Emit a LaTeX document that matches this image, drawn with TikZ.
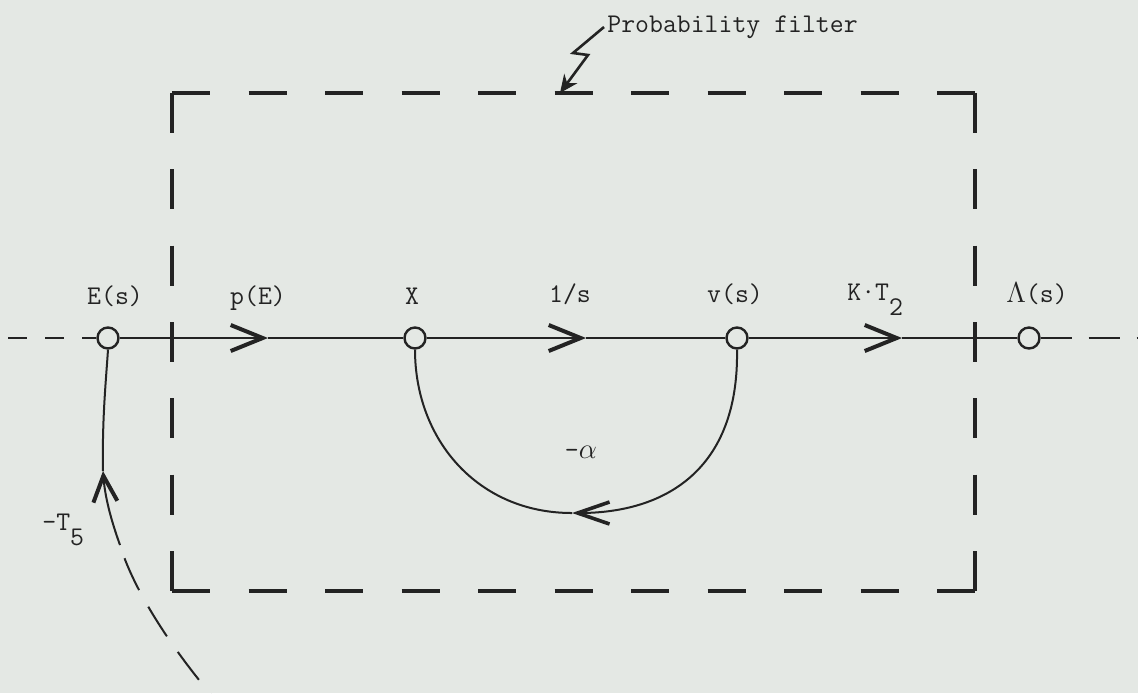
\documentclass[tikz,border=0pt]{standalone}
\usepackage{fontspec}
\usetikzlibrary{arrows.meta}
\definecolor{bg}{RGB}{228,232,228}
\definecolor{ink}{RGB}{35,35,35}
\begin{document}
\begin{tikzpicture}[x=0.5pt,y=-0.5pt,
  font=\ttfamily\fontsize{13.5}{15}\selectfont,
  box/.style={draw=ink, line width=1.8pt, line cap=square},
  hdash/.style={dash pattern=on 19pt off 19.25pt},
  vdash/.style={dash pattern=on 20pt off 18.17pt},
  wire/.style={draw=ink, line width=1.3pt},
  thincurve/.style={draw=ink, line width=1pt},
  nd/.style={circle, draw=ink, fill=bg, line width=1.2pt, minimum size=10.5pt, inner sep=0pt},
  lbl/.style={text=ink, inner sep=0pt, anchor=base},
  barb/.style={-{Straight Barb[length=16pt,width=13pt,line width=2pt]}},
  fbarb/.style={-{Straight Barb[length=16pt,width=11pt,line width=1.8pt]}},
  tbarb/.style={-{Straight Barb[length=13pt,width=12pt,line width=2pt]}}
]
\useasboundingbox (0,0) rectangle (1138,693);
\fill[bg] (0,0) rectangle (1138,693);

% probability filter box
\coordinate (b1) at (172,93);
\coordinate (b2) at (975,93);
\coordinate (b3) at (975,591);
\coordinate (b4) at (172,591);
\draw[box,hdash] (b1) -- (b2);
\draw[box,hdash] (b4) -- (b3);
\draw[box,vdash] (b1) -- (b4);
\draw[box,vdash] (b2) -- (b3);

% label and lightning pointer
\node[lbl, anchor=base west] (pf) at (607,32) {Probability filter};
\coordinate (z0) at (604,27);
\coordinate (z1) at (573,53);
\coordinate (z2) at (588,55);
\coordinate (z3) at (560,93);
\draw[draw=ink, line width=1.3pt, -{Stealth[length=9pt,width=8pt]}] (z0) -- (z1) -- (z2) -- (z3);

% nodes
\node[nd] (E) at (108,338) {};
\node[nd] (X) at (415,338) {};
\node[nd] (V) at (737,338) {};
\node[nd] (L) at (1029,338) {};

% labels
\node[lbl] (lE) at (115,304) {E(s)};
\node[lbl] (lp) at (258,304) {p(E)};
\node[lbl] (lX) at (412,304) {X};
\node[lbl] (l1) at (570,302) {1/s};
\node[lbl] (lv) at (735,302) {v(s)};
\node[lbl, anchor=base west] (lK) at (847,300) {K·T\raisebox{-7.5pt}{2}};
\node[lbl] (lL) at (1037,302) {$\Lambda$(s)};
\node[lbl, anchor=center] (la) at (581,452) {-$\alpha$};
\node[lbl, anchor=base west] (lT) at (42,530) {-T\raisebox{-7.5pt}{5}};

% main line
\coordinate (lin) at (8,338);
\coordinate (rout) at (1138,338);
\coordinate (a1) at (268,338);
\coordinate (a2) at (586,338);
\coordinate (a3) at (902,338);
\draw[wire, dash pattern=on 9.5pt off 9pt] (lin) -- (E.west);
\draw[wire, barb] (E.east) -- (a1);
\draw[wire] (a1) -- (X.west);
\draw[wire, barb] (X.east) -- (a2);
\draw[wire] (a2) -- (V.west);
\draw[wire, barb] (V.east) -- (a3);
\draw[wire] (a3) -- (L.west);
\draw[wire, dash pattern=on 15.5pt off 8.5pt] (L.east) -- (rout);

% feedback -alpha
\coordinate (m) at (572,513);
\draw[thincurve, fbarb] (V.south) .. controls (739,470) and (665,513) .. (m);
\draw[thincurve] (m) .. controls (478,513) and (415,440) .. (X.south);

% -T5 branch
\coordinate (t0) at (213,697);
\coordinate (tj) at (120,545);
\coordinate (tt) at (103,471);
\draw[thincurve, dash pattern=on 17.5pt off 9.5pt, dash phase=20pt] (tj) .. controls (132,585) and (165,640) .. (t0);
\draw[thincurve, tbarb] (tj) .. controls (111,520) and (105,497) .. (tt);
\draw[thincurve] (tt) .. controls (102,420) and (106,380) .. (E.south);
\end{tikzpicture}
\end{document}
